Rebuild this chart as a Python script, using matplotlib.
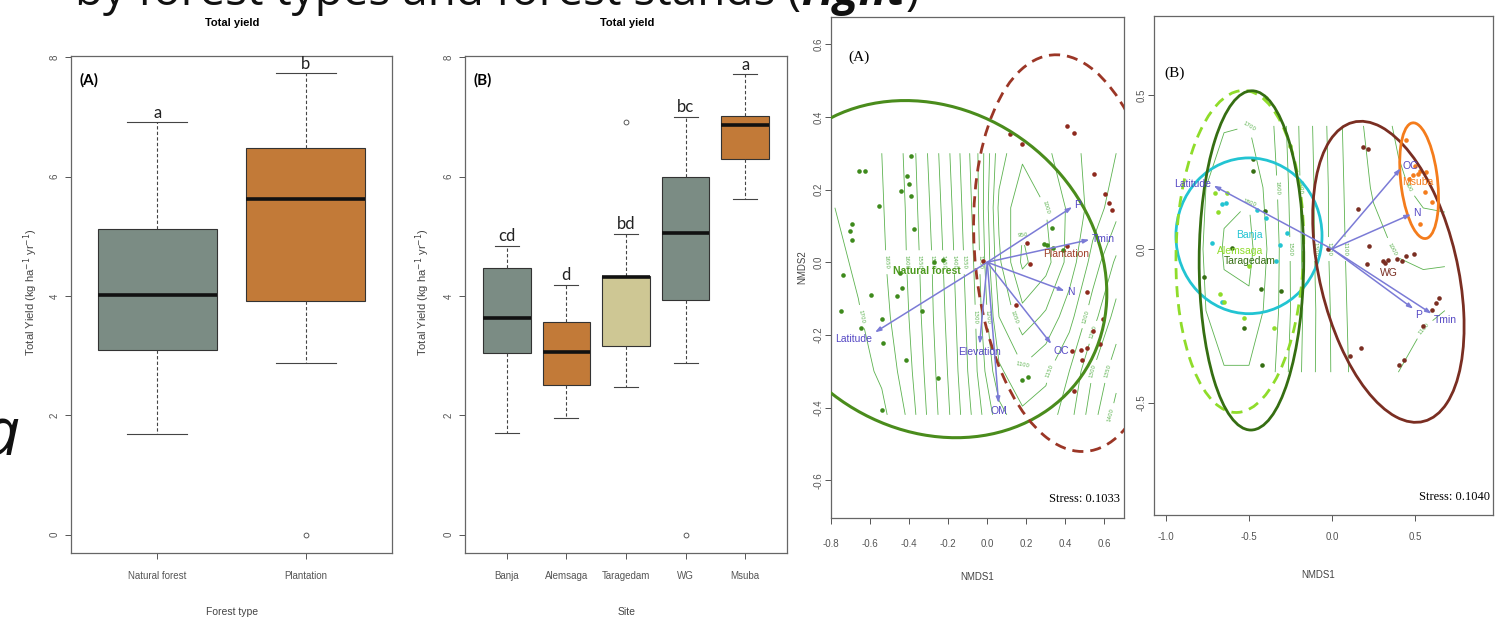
import numpy as np
import matplotlib
matplotlib.use('Agg')
import matplotlib.pyplot as plt
from matplotlib.patches import Ellipse

# ----------------------------
# Box plots: total yield
# ----------------------------
forest_types = ['Natural forest', 'Plantation']
ft_low = [1.69, 2.88]
ft_q1 = [3.09, 3.92]
ft_med = [4.01, 5.62]
ft_q3 = [5.12, 6.47]
ft_high = [6.91, 7.73]
ft_out = [[], [0.0]]
ft_letters = ['a', 'b']
ft_colors = ['#7b8c84', '#c27a38']

sites = ['Banja', 'Alemsaga', 'Taragedam', 'WG', 'Msuba']
st_low = [1.70, 1.96, 2.47, 2.88, 5.63]
st_q1 = [3.04, 2.50, 3.16, 3.93, 6.30]
st_med = [3.63, 3.06, 4.31, 5.05, 6.86]
st_q3 = [4.47, 3.56, 4.33, 6.00, 7.02]
st_high = [4.84, 4.19, 5.04, 7.00, 7.72]
st_out = [[], [], [6.92], [0.0], []]
st_letters = ['cd', 'd', 'bd', 'bc', 'a']
st_colors = ['#7b8c84', '#c27a38', '#cec794', '#7b8c84', '#c27a38']

# ----------------------------
# NMDS (A): forest types
# ----------------------------
nf_x = [-0.657, -0.628, -0.703, -0.694, -0.694, -0.553, -0.393, -0.410, -0.401, -0.393,
        -0.441, -0.376, -0.737, -0.747, -0.648, -0.594, -0.446, -0.434, -0.463, -0.541,
        -0.536, -0.335, -0.415, -0.250, -0.539, -0.272, -0.228, 0.329, 0.293, 0.307,
        0.336, 0.387, 0.178, 0.210]
nf_y = [0.252, 0.250, 0.086, 0.104, 0.061, 0.154, 0.293, 0.238, 0.214, 0.181,
        0.195, 0.092, -0.034, -0.134, -0.182, -0.090, -0.030, -0.072, -0.092, -0.156,
        -0.222, -0.134, -0.270, -0.319, -0.406, 0.002, 0.006, 0.094, 0.049, 0.047,
        0.039, 0.034, -0.323, -0.317]
pl_x = [0.115, 0.179, 0.409, 0.443, 0.546, 0.602, 0.624, 0.641, 0.205, 0.217, -0.022,
        0.408, 0.145, 0.512, 0.539, 0.592, 0.575, 0.435, 0.481, 0.510, 0.483, 0.443]
pl_y = [0.352, 0.326, 0.374, 0.356, 0.242, 0.187, 0.163, 0.145, 0.052, -0.005, 0.003,
        0.046, -0.118, -0.083, -0.188, -0.157, -0.226, -0.244, -0.242, -0.237, -0.268, -0.355]

# group ellipses: centre, x / y half extent, correlation
typeA_names = ['Natural forest', 'Plantation']
typeA_cx = [-0.29, 0.42]
typeA_cy = [-0.019, 0.025]
typeA_sx = [0.902, 0.49]
typeA_sy = [0.464, 0.546]
typeA_r = [-0.144, -0.137]
typeA_lab_x = [-0.311, 0.404]
typeA_lab_y = [-0.023, 0.022]

envA_names = ['P', 'Tmin', 'N', 'OC', 'OM', 'Elevation', 'Latitude']
envA_x = [0.435, 0.523, 0.396, 0.328, 0.058, -0.039, -0.575]
envA_y = [0.152, 0.062, -0.079, -0.225, -0.388, -0.225, -0.193]

# elevation surface (ordisurf), read on a coarse grid
gridA_x = [-0.78, -0.66, -0.54, -0.42, -0.30, -0.18, -0.06, 0.06, 0.18, 0.30, 0.42, 0.54, 0.66]
gridA_y = [-0.42, -0.30, -0.15, 0.00, 0.15, 0.30]
gridA_z = [
    [1745, 1735, 1715, 1650, 1540, 1440, 1330, 1220, 1160, 1170, 1230, 1330, 1420],
    [1735, 1720, 1690, 1630, 1530, 1430, 1310, 1160, 1110, 1140, 1200, 1300, 1380],
    [1725, 1705, 1670, 1615, 1520, 1420, 1300, 1100, 1020, 1060, 1130, 1230, 1320],
    [1715, 1690, 1660, 1605, 1515, 1410, 1290, 1060, 940, 980, 1070, 1170, 1260],
    [1700, 1680, 1655, 1600, 1505, 1400, 1280, 1040, 960, 1000, 1060, 1120, 1180],
    [1690, 1670, 1650, 1595, 1495, 1390, 1270, 1070, 1010, 1040, 1080, 1120, 1150],
]

# ----------------------------
# NMDS (B): forest stands
# ----------------------------
banja_x = [-0.723, -0.663, -0.639, -0.453, -0.396, -0.316, -0.268, -0.338, -0.663]
banja_y = [0.021, 0.145, 0.149, 0.126, 0.100, 0.014, 0.053, -0.040, -0.172]
alem_x = [-0.703, -0.633, -0.687, -0.673, -0.649, -0.527, -0.352, -0.499, -0.254, -0.400]
alem_y = [0.181, 0.181, 0.121, -0.146, -0.172, -0.223, -0.255, -0.056, 0.335, 0.490]
tara_x = [-0.473, -0.473, -0.406, -0.603, -0.769, -0.429, -0.308, -0.529, -0.422]
tara_y = [0.292, 0.255, 0.123, 0.004, -0.091, -0.129, -0.136, -0.255, -0.377]
wg_x = [0.189, 0.219, 0.155, 0.225, 0.213, -0.021, 0.305, 0.319, 0.339, 0.394, 0.420,
        0.444, 0.494, 0.600, 0.626, 0.646, 0.550, 0.109, 0.175, 0.406, 0.436]
wg_y = [0.332, 0.324, 0.129, 0.010, -0.050, -0.001, -0.040, -0.044, -0.037, -0.031, -0.040,
        -0.024, -0.015, -0.197, -0.176, -0.159, -0.249, -0.349, -0.322, -0.377, -0.360]
msuba_x = [0.448, 0.500, 0.530, 0.516, 0.566, 0.560, 0.600, 0.530, 0.466, 0.490]
msuba_y = [0.354, 0.271, 0.254, 0.245, 0.250, 0.185, 0.153, 0.081, 0.226, 0.241]

standB_names = ['Banja', 'Alemsaga', 'Taragedam', 'WG', 'Msuba']
standB_cx = [-0.50, -0.555, -0.485, 0.34, 0.525]
standB_cy = [0.043, -0.008, -0.037, -0.074, 0.222]
standB_sx = [0.44, 0.385, 0.315, 0.456, 0.117]
standB_sy = [0.253, 0.523, 0.551, 0.489, 0.188]
standB_r = [0.0, 0.057, 0.01, -0.363, -0.30]
standB_lab_x = [-0.497, -0.553, -0.493, 0.341, 0.514]
standB_lab_y = [0.044, -0.006, -0.040, -0.078, 0.219]

envB_names = ['Latitude', 'OC', 'N', 'P', 'Tmin']
envB_x = [-0.713, 0.414, 0.476, 0.490, 0.600]
envB_y = [0.206, 0.262, 0.113, -0.194, -0.210]

gridB_x = [-0.80, -0.65, -0.50, -0.35, -0.20, -0.05, 0.10, 0.25, 0.40, 0.55, 0.68]
gridB_y = [-0.40, -0.20, 0.00, 0.20, 0.40]
gridB_z = [
    [1650, 1690, 1690, 1610, 1420, 1240, 1100, 1080, 1100, 1150, 1180],
    [1670, 1780, 1780, 1640, 1430, 1240, 1090, 1060, 1060, 1080, 1100],
    [1680, 1810, 1830, 1650, 1420, 1230, 1080, 1030, 990, 960, 960],
    [1670, 1780, 1790, 1630, 1410, 1230, 1070, 990, 920, 870, 860],
    [1640, 1690, 1700, 1600, 1400, 1220, 1060, 960, 880, 830, 820],
]

# ----------------------------
# FIGURE
# ----------------------------
W, H = 1497, 621
fig = plt.figure(figsize=(W / 100, H / 100), dpi=100)
fig.patch.set_facecolor('white')

narrow = ['Liberation Sans Narrow', 'Liberation Sans', 'DejaVu Sans']
tick_col = '#555555'


def px_axes(l, t, r, b):
    return fig.add_axes([l / W, 1 - b / H, (r - l) / W, (b - t) / H])


def r_style(ax, ypad, xpad):
    for s in ax.spines.values():
        s.set_color('#666666')
        s.set_linewidth(0.9)
    ax.tick_params(direction='out', length=4, width=0.7, colors=tick_col, labelsize=7)
    ax.tick_params(axis='y', pad=ypad)
    ax.tick_params(axis='x', pad=xpad)
    for lab in ax.get_xticklabels() + ax.get_yticklabels():
        lab.set_family(narrow)
    for lab in ax.get_yticklabels():
        lab.set_rotation(90)
        lab.set_va('center')


def ftext(x, y, s, **kw):
    return fig.text(x / W, 1 - y / H, s, **kw)


def boxpanel(ax, names, low, q1, med, q3, high, out, letters, colors):
    stats = []
    for i in range(len(names)):
        stats.append(dict(whislo=low[i], q1=q1[i], med=med[i], q3=q3[i],
                          whishi=high[i], fliers=out[i]))
    pos = np.arange(1, len(names) + 1)
    bp = ax.bxp(stats, positions=pos, widths=0.8, capwidths=0.4, patch_artist=True,
                boxprops=dict(edgecolor='#333333', linewidth=0.8),
                medianprops=dict(color='#111111', linewidth=2.6),
                whiskerprops=dict(color='#444444', linewidth=0.8, linestyle=(0, (3, 2))),
                capprops=dict(color='#444444', linewidth=0.8),
                flierprops=dict(marker='o', markerfacecolor='none', markeredgecolor='#444444',
                                markersize=3.5, markeredgewidth=0.6))
    for patch, c in zip(bp['boxes'], colors):
        patch.set_facecolor(c)
    for p, h, l in zip(pos, high, letters):
        ax.annotate(l, (p, h), xytext=(0, 1), textcoords='offset points', ha='center',
                    va='bottom', fontsize=12, family='Lato', color='#222222')
    ax.set_xticks(pos)
    ax.set_xticklabels(names)
    ax.set_ylim(-0.31, 8.02)
    ax.set_yticks([0, 2, 4, 6, 8])
    ax.set_yticklabels(['0', '2', '4', '6', '8'])


# --- box plot (A)
axA = px_axes(71, 56, 392, 553)
boxpanel(axA, forest_types, ft_low, ft_q1, ft_med, ft_q3, ft_high, ft_out, ft_letters, ft_colors)
axA.set_xlim(0.42, 2.58)
r_style(axA, 4, 9)
axA.text(0.025, 0.965, '(A)', transform=axA.transAxes, fontsize=11, weight='bold',
         family='Lato', va='top', ha='left')

# --- box plot (B)
axB = px_axes(465, 56, 787, 553)
boxpanel(axB, sites, st_low, st_q1, st_med, st_q3, st_high, st_out, st_letters, st_colors)
axB.set_xlim(0.3, 5.7)
r_style(axB, 4, 9)
axB.text(0.025, 0.965, '(B)', transform=axB.transAxes, fontsize=11, weight='bold',
         family='Lato', va='top', ha='left')

for cx, xl in [(232, 'Forest type'), (627, 'Site')]:
    ftext(cx, 23, 'Total yield', ha='center', va='center', fontsize=8, weight='bold', family=narrow)
    ftext(cx, 612, xl, ha='center', va='center', fontsize=7.5, family=narrow, color='#444444')
for lx in [31, 423]:
    ftext(lx, 292, 'Total Yield (kg ha$^{-1}$ yr$^{-1}$)', rotation=90, ha='center', va='center',
          fontsize=8, family=narrow, color='#444444')

arrow_col = '#7b7bd6'
text_col = '#5548c4'
cont_col = '#5cb24f'


def ellipse(ax, cx, cy, sx, sy, r, **kw):
    cov = np.array([[sx * sx, r * sx * sy], [r * sx * sy, sy * sy]])
    vals, vecs = np.linalg.eigh(cov)
    ang = np.degrees(np.arctan2(vecs[1, 1], vecs[0, 1]))
    ax.add_patch(Ellipse((cx, cy), 2 * np.sqrt(vals[1]), 2 * np.sqrt(vals[0]), angle=ang,
                         fill=False, **kw))


def env_arrows(ax, names, xs, ys):
    for n, x, y in zip(names, xs, ys):
        ax.annotate('', xy=(x, y), xytext=(0, 0),
                    arrowprops=dict(arrowstyle='-|>,head_length=0.35,head_width=0.12',
                                    color=arrow_col, lw=1.1, shrinkA=0, shrinkB=0), zorder=6)
        p0 = ax.transData.transform((0, 0))
        p1 = ax.transData.transform((x, y))
        d = (p1 - p0) / np.hypot(*(p1 - p0))
        ha = 'left' if d[0] > 0.35 else ('right' if d[0] < -0.35 else 'center')
        va = 'bottom' if d[1] > 0.8 else ('top' if d[1] < -0.5 else 'center')
        ax.annotate(n, (x, y), xytext=(d[0] * 2, d[1] * 2), textcoords='offset points',
                    ha=ha, va=va, fontsize=7.5, color=text_col, family=narrow, zorder=7)


def surface(ax, gx, gy, gz, step):
    cs = ax.contour(gx, gy, np.array(gz), levels=np.arange(800, 1901, step),
                    colors=cont_col, linewidths=0.6, zorder=1)
    ax.clabel(cs, fmt='%d', fontsize=4, inline=True, colors=cont_col)


# --- NMDS (A)
axN1 = px_axes(831, 17, 1124, 518)
axN1.set_xlim(-0.80, 0.70)
axN1.set_ylim(-0.704, 0.675)
surface(axN1, gridA_x, gridA_y, gridA_z, 50)
axN1.plot(nf_x, nf_y, 'o', color='#3e8a1c', ms=3.3, mew=0, zorder=4)
axN1.plot(pl_x, pl_y, 'o', color='#8e2a1e', ms=3.3, mew=0, zorder=4)
ellipse(axN1, typeA_cx[0], typeA_cy[0], typeA_sx[0], typeA_sy[0], typeA_r[0],
        edgecolor='#4a8c1c', lw=2.2, zorder=5)
ellipse(axN1, typeA_cx[1], typeA_cy[1], typeA_sx[1], typeA_sy[1], typeA_r[1],
        edgecolor='#9b3626', lw=2.0, linestyle=(0, (4, 2.5)), zorder=5)
axN1.text(typeA_lab_x[0], typeA_lab_y[0], typeA_names[0], color='#4c9a1e', fontsize=7.5,
          weight='bold', family=narrow, ha='center', va='center', zorder=7)
axN1.text(typeA_lab_x[1], typeA_lab_y[1], typeA_names[1], color='#a0402a', fontsize=7.5,
          family=narrow, ha='center', va='center', zorder=7)
env_arrows(axN1, envA_names, envA_x, envA_y)
axN1.set_xticks([-0.8, -0.6, -0.4, -0.2, 0.0, 0.2, 0.4, 0.6])
axN1.set_xticklabels(['-0.8', '-0.6', '-0.4', '-0.2', '0.0', '0.2', '0.4', '0.6'])
axN1.set_yticks([-0.6, -0.4, -0.2, 0.0, 0.2, 0.4, 0.6])
axN1.set_yticklabels(['-0.6', '-0.4', '-0.2', '0.0', '0.2', '0.4', '0.6'])
r_style(axN1, 1.5, 11)
axN1.text(0.06, 0.92, '(A)', transform=axN1.transAxes, fontsize=11, family='Liberation Serif',
          va='center', ha='left')
axN1.text(0.985, 0.025, 'Stress: 0.1033', transform=axN1.transAxes, fontsize=9,
          family='Liberation Serif', va='bottom', ha='right')
ftext(977, 577, 'NMDS1', ha='center', va='center', fontsize=7, family=narrow, color='#444444')
ftext(802, 267, 'NMDS2', ha='center', va='center', rotation=90, fontsize=7, family=narrow,
      color='#444444')

# --- NMDS (B)
axN2 = px_axes(1154, 16, 1493, 515)
axN2.set_xlim(-1.072, 0.97)
axN2.set_ylim(-0.864, 0.757)
surface(axN2, gridB_x, gridB_y, gridB_z, 100)
pt_cols = ['#22c4d2', '#8fdc2a', '#356e12', '#7a2e22', '#f47c1c']
groups_x = [banja_x, alem_x, tara_x, wg_x, msuba_x]
groups_y = [banja_y, alem_y, tara_y, wg_y, msuba_y]
for gx, gy, c in zip(groups_x, groups_y, pt_cols):
    axN2.plot(gx, gy, 'o', color=c, ms=3.3, mew=0, zorder=4)
ell_ls = ['-', (0, (4, 2.5)), '-', '-', '-']
for i in range(5):
    ellipse(axN2, standB_cx[i], standB_cy[i], standB_sx[i], standB_sy[i], standB_r[i],
            edgecolor=pt_cols[i], lw=2.0, linestyle=ell_ls[i], zorder=5)
for i in range(5):
    axN2.text(standB_lab_x[i], standB_lab_y[i], standB_names[i], color=pt_cols[i], fontsize=7.5,
              family=narrow, ha='center', va='center', zorder=7)
env_arrows(axN2, envB_names, envB_x, envB_y)
axN2.set_xticks([-1.0, -0.5, 0.0, 0.5])
axN2.set_xticklabels(['-1.0', '-0.5', '0.0', '0.5'])
axN2.set_yticks([-0.5, 0.0, 0.5])
axN2.set_yticklabels(['-0.5', '0.0', '0.5'])
r_style(axN2, 1, 8)
axN2.text(0.03, 0.885, '(B)', transform=axN2.transAxes, fontsize=11, family='Liberation Serif',
          va='center', ha='left')
axN2.text(0.99, 0.025, 'Stress: 0.1040', transform=axN2.transAxes, fontsize=9,
          family='Liberation Serif', va='bottom', ha='right')
ftext(1318, 575, 'NMDS1', ha='center', va='center', fontsize=7, family=narrow, color='#444444')

# --- slide text around the figures
renderer = fig.canvas.get_renderer()
base = 5
t1 = ftext(75, base, 'by forest types and forest stands (', fontsize=33, family='Open Sans',
           va='baseline', ha='left', color='#111111')
bb = t1.get_window_extent(renderer)
t2 = fig.text(bb.x1 / W, 1 - base / H, 'right', fontsize=33, family='Open Sans', style='italic',
              weight='bold', va='baseline', ha='left', color='#111111')
bb = t2.get_window_extent(renderer)
fig.text(bb.x1 / W, 1 - base / H, ')', fontsize=33, family='Open Sans', va='baseline',
         ha='left', color='#111111')
ftext(19, 455, 'a', fontsize=48, family='Open Sans', style='italic', ha='right',
      va='baseline', color='#111111')

fig.savefig('out.png', dpi=100)
